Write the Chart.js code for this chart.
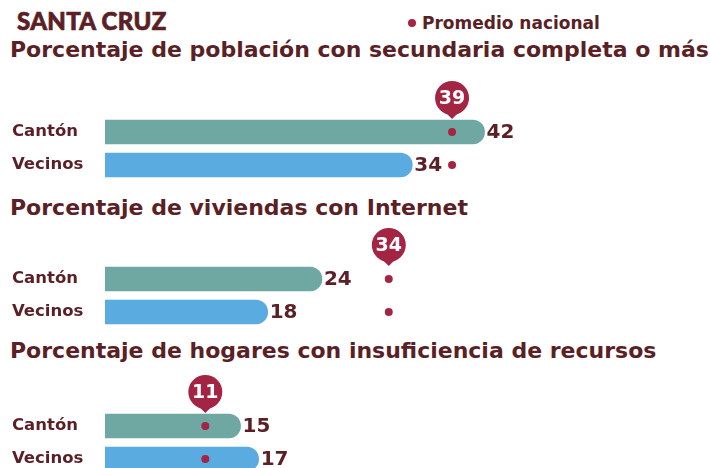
<!DOCTYPE html>
<html><head><meta charset="utf-8">
<script src="https://cdn.jsdelivr.net/npm/chart.js@4.4.1/dist/chart.umd.min.js"></script>
<style>
html,body{margin:0;padding:0;background:#fff;width:710px;height:468px;overflow:hidden;position:relative}
.txt{position:absolute;white-space:nowrap;color:#5b1f26;line-height:1}
.ptitle{left:10px;font:bold 22px "DejaVu Sans";line-height:22px}
#place{left:17px;top:9px;font:900 24px "Lato";line-height:24px;letter-spacing:0.3px;-webkit-text-stroke:0.7px #5b1f26}
#legend{left:408px;top:15px;font:bold 17px "DejaVu Sans";line-height:17px}
#legend .dot{display:inline-block;width:8px;height:8px;border-radius:50%;background:#a32443;margin-right:6px;vertical-align:2px}
.panel{position:absolute;left:0;width:710px;height:122px}
</style></head>
<body>
<div class="txt" id="place"></div>
<div class="txt" id="legend"><span class="dot"></span><span id="legendText"></span></div>
<div class="txt ptitle" id="t0" style="top:38.5px"></div>
<div class="txt ptitle" id="t1" style="top:196.5px"></div>
<div class="txt ptitle" id="t2" style="top:339.5px"></div>
<div class="panel" style="top:70px"><canvas id="c0"></canvas></div>
<div class="panel" style="top:217px"><canvas id="c1"></canvas></div>
<div class="panel" style="top:364px"><canvas id="c2"></canvas></div>
<script>
// ---- data ----
const placeName = 'SANTA CRUZ';
const legendLabel = 'Promedio nacional';
const categories = ['Cantón', 'Vecinos'];
const panelTitles = [
  'Porcentaje de población con secundaria completa o más',
  'Porcentaje de viviendas con Internet',
  'Porcentaje de hogares con insuficiencia de recursos'
];
const secundaria = [42, 34];
const internet = [24, 18];
const insuficiencia = [15, 17];
const promedioNacional = [39, 34, 11];          // value shown in the pin
const promedioPosicion = [38.4, 31.4, 11.1];    // where the dot sits on the bar axis in the picture
const seriesByPanel = [secundaria, internet, insuficiencia];

// ---- styles ----
const TEAL = '#6fa7a3', BLUE = '#59abe0', CRIMSON = '#a32443', MAROON = '#5b1f26';

document.getElementById('place').textContent = placeName;
document.getElementById('legendText').textContent = legendLabel;
panelTitles.forEach((t, i) => document.getElementById('t' + i).textContent = t);

const decorPlugin = {
  id: 'decor',
  afterDatasetsDraw(chart, args, opts) {
    const ctx = chart.ctx;
    const bars = chart.getDatasetMeta(1).data;
    const values = chart.data.datasets[1].data;
    ctx.save();
    ctx.fillStyle = MAROON;
    ctx.font = 'bold 20px "DejaVu Sans"';
    ctx.textAlign = 'left';
    ctx.textBaseline = 'middle';
    bars.forEach((b, i) => ctx.fillText(String(values[i]), b.x + 2, b.y + 1));
    const x = chart.scales.x.getPixelForValue(opts.pos);
    const y = bars[0].y;
    const cy = y - 34, r = 17;
    ctx.fillStyle = CRIMSON;
    ctx.beginPath();
    ctx.arc(x, cy, r, 0, Math.PI * 2);
    ctx.fill();
    ctx.beginPath();
    ctx.moveTo(x - 7, cy + 14);
    ctx.lineTo(x + 7, cy + 14);
    ctx.lineTo(x, y - 13);
    ctx.closePath();
    ctx.fill();
    ctx.fillStyle = '#ffffff';
    ctx.textAlign = 'center';
    ctx.font = 'bold 19px "DejaVu Sans"';
    ctx.fillText(String(opts.label), x, cy + 1);
    ctx.restore();
  }
};

seriesByPanel.forEach((vals, p) => new Chart(document.getElementById('c' + p), {
    type: 'bar',
    data: {
      labels: categories,
      datasets: [
        {
          type: 'scatter',
          order: 0,
          data: categories.map(c => ({ x: promedioPosicion[p], y: c })),
          pointRadius: 4,
          pointHoverRadius: 4,
          pointBackgroundColor: CRIMSON,
          pointBorderWidth: 0,
          showLine: false
        },
        {
          type: 'bar',
          order: 1,
          data: vals,
          backgroundColor: [TEAL, BLUE],
          barThickness: 24,
          borderRadius: 12,
          borderSkipped: 'start'
        }
      ]
    },
    options: {
      indexAxis: 'y',
      responsive: true,
      maintainAspectRatio: false,
      animation: false,
      events: [],
      layout: { padding: { left: 12, right: 0, top: 45.5, bottom: 10.5 } },
      scales: {
        x: { type: 'linear', min: 0, max: 66.5, display: false },
        y: {
          type: 'category',
          offset: true,
          grid: { display: false },
          border: { display: false },
          ticks: {
            crossAlign: 'far',
            color: MAROON,
            font: { family: 'DejaVu Sans', weight: 'bold', size: 16.5 },
            padding: 0
          },
          afterFit(scale) { scale.width = 93; }
        }
      },
      plugins: {
        legend: { display: false },
        tooltip: { enabled: false },
        decor: { pos: promedioPosicion[p], label: promedioNacional[p] }
      }
    },
    plugins: [decorPlugin]
  }));
</script>
</body></html>
